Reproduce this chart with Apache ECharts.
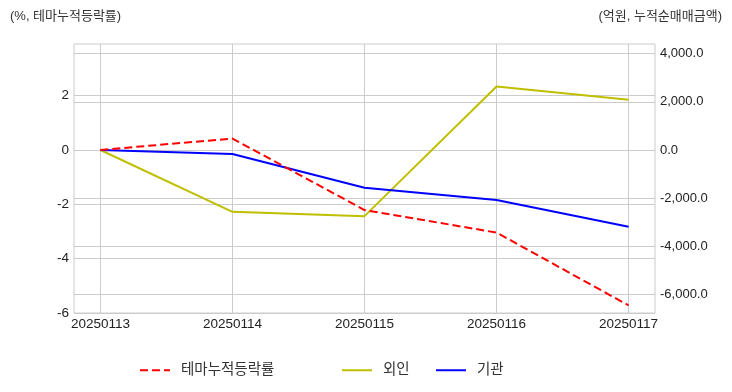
<!DOCTYPE html>
<html><head><meta charset="utf-8">
<script src="https://cdn.jsdelivr.net/npm/echarts@6/dist/echarts.min.js"></script>
<style>html,body{margin:0;padding:0;background:#fff}#c{width:732px;height:392px}</style>
</head><body><div id="c"></div>
<script>
const categories = ['20250113','20250114','20250115','20250116','20250117'];
const themeReturn = [0, 0.42, -2.21, -3.04, -5.72];
const foreign = [0, -2570, -2750, 2640, 2083];
const institution = [0, -167, -1570, -2083, -3195];
const leftTicks = [-6, -4, -2, 0, 2];
const rightTicks = [-6000, -4000, -2000, 0, 2000, 4000];
const seriesNames = ['테마누적등락률', '외인', '기관'];

const FONT = '"Liberation Sans", "Noto Sans CJK KR", sans-serif';
const chart = echarts.init(document.getElementById('c'), null, {renderer: 'canvas'});
const fmtR = v => v.toLocaleString('en-US', {minimumFractionDigits: 1, maximumFractionDigits: 1});
const catIdx = categories.map((c, i) => i);

const legendBase = {
  top: 363, padding: 0, itemWidth: 30, itemHeight: 14,
  itemStyle: {color: 'transparent', borderWidth: 0},
  textStyle: {fontFamily: FONT, fontSize: 14.5, color: '#333', padding: [0, 0, 0, 6]}
};

chart.setOption({
  animation: false,
  textStyle: {fontFamily: FONT},
  graphic: [
    {type: 'text', left: 10, top: 10, style: {text: '(%, 테마누적등락률)', font: '13px ' + FONT, fill: '#333'}},
    {type: 'text', right: 10, top: 10, style: {text: '(억원, 누적순매매금액)', font: '13px ' + FONT, fill: '#333'}}
  ],
  legend: [
    Object.assign({}, legendBase, {left: 139, data: [seriesNames[0]]}),
    Object.assign({}, legendBase, {left: 341, data: [seriesNames[1]]}),
    Object.assign({}, legendBase, {left: 435, data: [seriesNames[2]]})
  ],
  grid: {left: 74, right: 77, top: 44, bottom: 79, show: true, borderColor: '#cccccc', borderWidth: 1, containLabel: false},
  xAxis: {
    type: 'value', min: -0.2, max: 4.2,
    axisLine: {show: false},
    axisTick: {show: false, customValues: catIdx},
    splitLine: {show: true, lineStyle: {color: '#cccccc', width: 1}},
    axisLabel: {
      fontSize: 13.5, color: '#222', margin: 5, customValues: catIdx,
      formatter: v => categories[Math.round(v)] || ''
    }
  },
  yAxis: [
    {
      type: 'value', min: -6, max: 3.9, position: 'left',
      axisLine: {show: false},
      axisTick: {show: false, customValues: leftTicks},
      splitLine: {show: true, lineStyle: {color: '#cccccc', width: 1}},
      axisLabel: {fontSize: 13.5, color: '#222', margin: 5, customValues: leftTicks,
        formatter: v => String(v)}
    },
    {
      type: 'value', min: -6775, max: 4404, position: 'right',
      axisLine: {show: false},
      axisTick: {show: false, customValues: rightTicks},
      splitLine: {show: true, lineStyle: {color: '#cccccc', width: 1}},
      axisLabel: {fontSize: 13, color: '#222', margin: 5, customValues: rightTicks,
        formatter: v => fmtR(v)}
    }
  ],
  series: [
    {name: seriesNames[0], type: 'line', yAxisIndex: 0, symbol: 'none', z: 3,
     data: themeReturn.map((v, i) => [i, v]),
     itemStyle: {color: '#ff0000'}, lineStyle: {color: '#ff0000', width: 2, type: [8, 4]}},
    {name: seriesNames[1], type: 'line', yAxisIndex: 1, symbol: 'none', z: 2,
     data: foreign.map((v, i) => [i, v]),
     itemStyle: {color: '#bfbf00'}, lineStyle: {color: '#bfbf00', width: 2}},
    {name: seriesNames[2], type: 'line', yAxisIndex: 1, symbol: 'none', z: 2,
     data: institution.map((v, i) => [i, v]),
     itemStyle: {color: '#0000ff'}, lineStyle: {color: '#0000ff', width: 2}}
  ]
});
</script></body></html>
